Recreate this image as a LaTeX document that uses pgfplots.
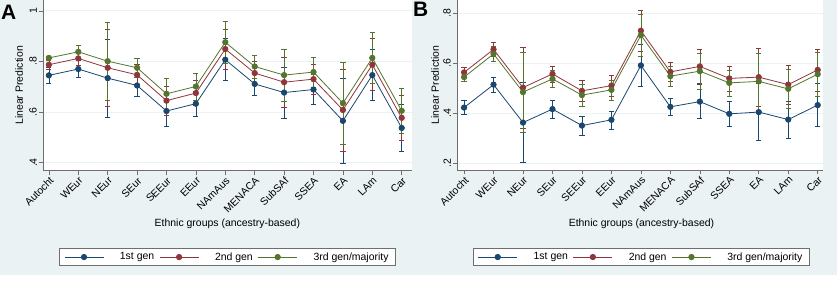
\documentclass[border=0pt]{standalone}
\usepackage{fontspec}
\setmainfont{Liberation Sans}
\usepackage{pgfplots}
\pgfplotsset{compat=1.18}
\definecolor{bg}{RGB}{234,242,243}
\definecolor{snavy}{RGB}{26,71,111}
\definecolor{smaroon}{RGB}{144,53,59}
\definecolor{sgreen}{RGB}{85,117,47}
\definecolor{axc}{RGB}{110,110,110}
\newcommand{\fs}{\fontsize{10.5}{12}\selectfont}
\pgfplotsset{
  statastyle/.style={
    scale only axis,
    axis x line*=bottom, axis y line*=left,
    axis line style={-, color=axc, line width=0.6bp},
    tick align=outside, major tick length=4bp,
    tick style={color=axc, line width=0.6bp},
    xtick={0,...,12},
    xticklabels={Autocht,WEur,NEur,SEur,SEEur,EEur,NAmAus,MENACA,SubSAf,SSEA,EA,LAm,Car},
    xticklabel style={rotate=45, anchor=north east, inner sep=1bp, font=\fs},
    yticklabel style={rotate=90, anchor=south, inner sep=2bp, font=\fs},
    ymajorgrids, grid style={color=bg, line width=0.9bp},
    axis background/.style={fill=white},
    xlabel={Ethnic groups (ancestry-based)}, ylabel={Linear Prediction},
    label style={font=\fs},
    legend columns=3,
    legend cell align=left,
    legend style={draw=axc, line width=0.6bp, fill=white, font=\fs, anchor=center,
      inner xsep=5bp, inner ysep=2bp,
      /tikz/every even column/.append style={column sep=3bp},
      /tikz/every odd column/.append style={column sep=14bp}},
    legend image code/.code={\draw[mark repeat=2, mark phase=2] plot coordinates {(0bp,0bp) (19.5bp,0bp) (39bp,0bp)};},
  },
  ser/.style={color=#1, line width=0.8bp, mark=*, mark size=2.7bp, mark options={solid, fill=#1},
    error bars/.cd, y dir=both, y explicit,
    error bar style={line width=0.6bp, color=#1},
    error mark options={rotate=90, mark size=2.6bp, line width=0.6bp, color=#1}},
}
\begin{document}
\begin{tikzpicture}
\fill[bg] (0,7.5bp) rectangle (837bp,283bp);
\node[anchor=north west, inner sep=0pt, font=\fontsize{21}{21}\bfseries] at (1bp,278bp) {A};
\node[anchor=north west, inner sep=0pt, font=\fontsize{21}{21}\bfseries] at (413bp,281bp) {B};
\begin{axis}[statastyle,
  at={(43bp,112.3bp)}, anchor=south west,
  width=368.7bp, height=170.7bp,
  xmin=-0.2, xmax=12.34, ymin=0.368, ymax=1.043,
  ytick={0.4,0.6,0.8,1}, yticklabels={.4,.6,.8,1},
  xlabel style={at={(axis description cs:0.5,-0.312)}, anchor=center},
  ylabel style={at={(axis description cs:-0.065,0.5)}, anchor=center},
  legend style={at={(0.5,-0.506)}},
]
\addplot+[ser=snavy] coordinates {
(0,0.745) +- (0,0.030)
(1,0.770) +- (0,0.033)
(2,0.734) +- (0,0.154)
(3,0.705) +- (0,0.043)
(4,0.604) +- (0,0.061)
(5,0.633) +- (0,0.050)
(6,0.807) +- (0,0.083)
(7,0.711) +- (0,0.045)
(8,0.677) +- (0,0.101)
(9,0.689) +- (0,0.060)
(10,0.565) +- (0,0.167)
(11,0.746) +- (0,0.101)
(12,0.537) +- (0,0.092)
};
\addlegendentry{1st gen}
\addplot+[ser=smaroon] coordinates {
(0,0.787) +- (0,0.020)
(1,0.812) +- (0,0.028)
(2,0.775) +- (0,0.153)
(3,0.747) +- (0,0.040)
(4,0.645) +- (0,0.058)
(5,0.675) +- (0,0.050)
(6,0.849) +- (0,0.080)
(7,0.754) +- (0,0.046)
(8,0.718) +- (0,0.100)
(9,0.730) +- (0,0.059)
(10,0.608) +- (0,0.162)
(11,0.787) +- (0,0.103)
(12,0.577) +- (0,0.089)
};
\addlegendentry{2nd gen}
\addplot+[ser=sgreen] coordinates {
(0,0.814) +- (0,0.008)
(1,0.838) +- (0,0.026)
(2,0.801) +- (0,0.154)
(3,0.775) +- (0,0.036)
(4,0.672) +- (0,0.063)
(5,0.701) +- (0,0.053)
(6,0.876) +- (0,0.082)
(7,0.780) +- (0,0.045)
(8,0.746) +- (0,0.103)
(9,0.758) +- (0,0.059)
(10,0.635) +- (0,0.162)
(11,0.814) +- (0,0.100)
(12,0.605) +- (0,0.090)
};
\addlegendentry{3rd gen/majority}
\end{axis}
\begin{axis}[statastyle,
  at={(457bp,113bp)}, anchor=south west,
  width=366bp, height=170bp,
  xmin=-0.24, xmax=12.18, ymin=0.172, ymax=0.853,
  ytick={0.2,0.4,0.6,0.8}, yticklabels={.2,.4,.6,.8},
  xlabel style={at={(axis description cs:0.504,-0.318)}, anchor=center},
  ylabel style={at={(axis description cs:-0.060,0.5)}, anchor=center},
  legend style={at={(0.503,-0.512)}},
]
\addplot+[ser=snavy] coordinates {
(0,0.422) +- (0,0.028)
(1,0.514) +- (0,0.029)
(2,0.362) +- (0,0.160)
(3,0.416) +- (0,0.035)
(4,0.350) +- (0,0.039)
(5,0.373) +- (0,0.036)
(6,0.591) +- (0,0.083)
(7,0.425) +- (0,0.035)
(8,0.446) +- (0,0.068)
(9,0.397) +- (0,0.051)
(10,0.404) +- (0,0.115)
(11,0.374) +- (0,0.075)
(12,0.432) +- (0,0.086)
};
\addlegendentry{1st gen}
\addplot+[ser=smaroon] coordinates {
(0,0.563) +- (0,0.020)
(1,0.655) +- (0,0.028)
(2,0.502) +- (0,0.162)
(3,0.557) +- (0,0.032)
(4,0.489) +- (0,0.043)
(5,0.510) +- (0,0.043)
(6,0.730) +- (0,0.083)
(7,0.565) +- (0,0.037)
(8,0.587) +- (0,0.069)
(9,0.539) +- (0,0.050)
(10,0.544) +- (0,0.115)
(11,0.514) +- (0,0.079)
(12,0.573) +- (0,0.084)
};
\addlegendentry{2nd gen}
\addplot+[ser=sgreen] coordinates {
(0,0.544) +- (0,0.018)
(1,0.637) +- (0,0.029)
(2,0.484) +- (0,0.161)
(3,0.537) +- (0,0.033)
(4,0.472) +- (0,0.044)
(5,0.493) +- (0,0.040)
(6,0.712) +- (0,0.085)
(7,0.548) +- (0,0.039)
(8,0.568) +- (0,0.072)
(9,0.521) +- (0,0.052)
(10,0.527) +- (0,0.114)
(11,0.497) +- (0,0.077)
(12,0.556) +- (0,0.087)
};
\addlegendentry{3rd gen/majority}
\end{axis}
\pgfresetboundingbox
\path (0,0) rectangle (837bp,283bp);
\end{tikzpicture}
\end{document}
